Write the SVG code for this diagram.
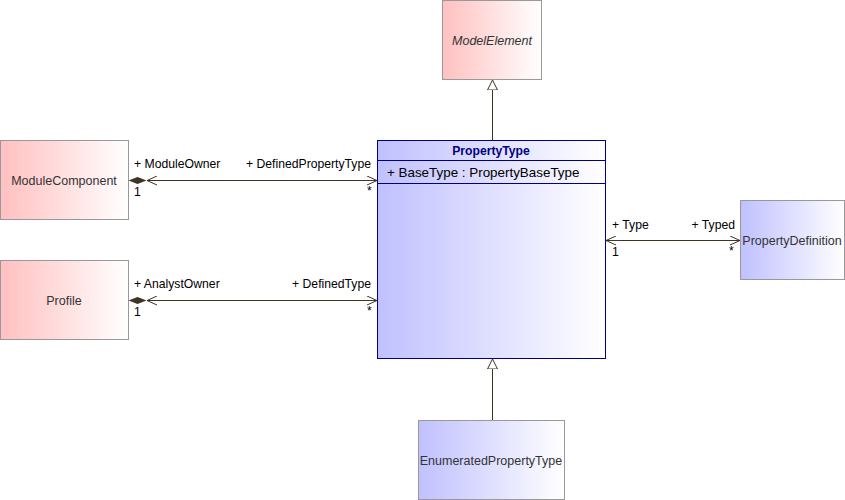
<svg xmlns="http://www.w3.org/2000/svg" width="845" height="500" viewBox="0 0 845 500">
<defs>
<linearGradient id="red" x1="0" y1="0" x2="1" y2="0"><stop offset="0" stop-color="#FFC0C0"/><stop offset="1" stop-color="#FFFFFF"/></linearGradient>
<linearGradient id="blue" x1="0" y1="0" x2="1" y2="0"><stop offset="0" stop-color="#C0C0FF"/><stop offset="1" stop-color="#FFFFFF"/></linearGradient>
<marker id="gen" markerWidth="12" markerHeight="12" refX="10" refY="5" orient="auto" markerUnits="userSpaceOnUse" viewBox="0 0 12 10"><path d="M0,0 L10,5 L0,10 Z" fill="#fff" stroke="#3f3424" stroke-width="1"/></marker>
<marker id="open" markerWidth="12" markerHeight="10" refX="10" refY="5" orient="auto-start-reverse" markerUnits="userSpaceOnUse" viewBox="0 0 12 10"><path d="M0,0.5 L10,5 L0,9.5" fill="none" stroke="#3f3424" stroke-width="1"/></marker>
</defs>
<style>
text{font-family:"Liberation Sans",Arial,sans-serif;font-size:12.2px;}
.nm{fill:#333;text-anchor:middle;font-size:12.5px;}
.lb{fill:#000;}
.box{stroke:#999;stroke-width:1;}
.ln{stroke:#3f3424;stroke-width:1;fill:none;}
</style>
<rect width="845" height="500" fill="#fff"/>
<g id="ModelElement"><rect class="box" x="442.5" y="0.5" width="99" height="79" fill="url(#red)"/><text class="nm" x="492" y="45" font-style="italic">ModelElement</text></g>
<g id="ModuleComponent"><rect class="box" x="0.5" y="140.5" width="128" height="79" fill="url(#red)"/><text class="nm" x="64" y="185">ModuleComponent</text></g>
<g id="Profile"><rect class="box" x="0.5" y="260.5" width="128" height="79" fill="url(#red)"/><text class="nm" x="64" y="305">Profile</text></g>
<g id="PropertyType"><rect x="377.5" y="140.5" width="228" height="218" fill="url(#blue)" stroke="#000080"/><line x1="377.5" y1="160.5" x2="605.5" y2="160.5" stroke="#000080"/><line x1="377.5" y1="183.5" x2="605.5" y2="183.5" stroke="#000080"/><text x="491" y="155" text-anchor="middle" font-weight="bold" fill="#000080">PropertyType</text><text x="387" y="177" style="font-size:13.4px" fill="#000">+ BaseType : PropertyBaseType</text></g>
<g id="PropertyDefinition"><rect class="box" x="740.5" y="200.5" width="104" height="79" fill="url(#blue)"/><text class="nm" x="792" y="245">PropertyDefinition</text></g>
<g id="EnumeratedPropertyType"><rect class="box" x="418.5" y="420.5" width="146" height="79" fill="url(#blue)"/><text class="nm" x="491" y="465">EnumeratedPropertyType</text></g>
<g id="connectors">
<line class="ln" x1="492.5" y1="140" x2="492.5" y2="80" marker-end="url(#gen)"/>
<line class="ln" x1="492.5" y1="420" x2="492.5" y2="359" marker-end="url(#gen)"/>
<line class="ln" x1="147" y1="180.5" x2="377" y2="180.5" marker-start="url(#open)" marker-end="url(#open)"/>
<path d="M128.5,180.5 L137.5,177 L146.5,180.5 L137.5,184 Z" fill="#3f3424"/>
<line class="ln" x1="147" y1="300.5" x2="377" y2="300.5" marker-start="url(#open)" marker-end="url(#open)"/>
<path d="M128.5,300.5 L137.5,297 L146.5,300.5 L137.5,304 Z" fill="#3f3424"/>
<line class="ln" x1="606" y1="240.5" x2="740" y2="240.5" marker-start="url(#open)" marker-end="url(#open)"/>
<text class="lb" x="134" y="168">+ ModuleOwner</text>
<text class="lb" x="134" y="196">1</text>
<text class="lb" x="371" y="168" text-anchor="end">+ DefinedPropertyType</text>
<text class="lb" x="367" y="195">*</text>
<text class="lb" x="134" y="288">+ AnalystOwner</text>
<text class="lb" x="134" y="316">1</text>
<text class="lb" x="371" y="288" text-anchor="end">+ DefinedType</text>
<text class="lb" x="367" y="315">*</text>
<text class="lb" x="612" y="229">+ Type</text>
<text class="lb" x="612" y="256">1</text>
<text class="lb" x="735" y="229" text-anchor="end">+ Typed</text>
<text class="lb" x="729" y="255">*</text>
</g>
</svg>
